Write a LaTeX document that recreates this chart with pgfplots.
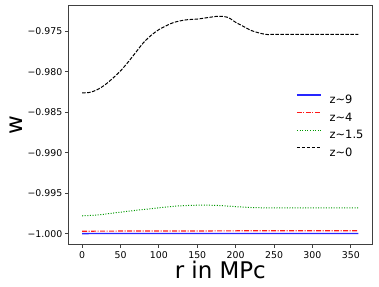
\documentclass[border=0pt]{standalone}
\usepackage{fontspec}
\setmainfont{DejaVu Sans}
\usepackage{pgfplots}
\pgfplotsset{compat=1.18}
\begin{document}
\begin{tikzpicture}[x=1bp,y=1bp]
\useasboundingbox (0,0) rectangle (379,287);
\begin{axis}[
  at={(68.3bp,42.7bp)}, anchor=south west,
  scale only axis, width=304bp, height=239bp,
  xmin=-18, xmax=378, ymin=-1.0013, ymax=-0.9718,
  axis line style={line width=0.8bp, black!75},
  tick align=outside, major tick length=3.3bp,
  tick style={line width=0.8bp, black!75},
  xtick={0,50,100,150,200,250,300,350},
  ytick={-1.000,-0.995,-0.990,-0.985,-0.980,-0.975},
  yticklabels={−1.000,−0.995,−0.990,−0.985,−0.980,−0.975},
  xtick pos=bottom, ytick pos=left,
  /pgf/number format/assume math mode=true,
  ticklabel style={font=\fontsize{9.4}{10}\selectfont},
  xticklabel style={inner sep=0pt, anchor=north, yshift=-3.3bp},
  yticklabel style={inner sep=0pt, anchor=east, xshift=-2.5bp},
  xlabel={r in MPc}, ylabel={w},
  label style={font=\fontsize{23}{24}\selectfont},
  xlabel style={at={(axis description cs:0.5,-0.141)}, anchor=base, inner sep=0pt},
  ylabel style={at={(axis description cs:-0.152,0.5)}, anchor=base, inner sep=0pt},
  legend style={draw=none, fill=none, inner sep=0pt, outer sep=0pt,
    at={(axis description cs:0.75,0.627)}, anchor=north west,
    font=\fontsize{11.5}{12}\selectfont, row sep=8.6bp,
    nodes={inner sep=0pt, text height=8.4bp, text depth=0bp},
    /tikz/every odd column/.append style={column sep=8bp}},
  legend cell align=left,
  legend image code/.code={\draw[#1] (0bp,4.2bp) -- (24bp,4.2bp);},
]
\addplot[blue!85!white, line width=1.3bp] coordinates {(0,-0.99998) (120,-0.99997) (240,-0.99997) (360,-0.99996)};
\addlegendentry{z\char"7E 9}
\addplot[red!90!white, line width=1.2bp, dash pattern=on 5bp off 1.5bp on 1bp off 1.5bp] coordinates {(0,-0.99968) (100,-0.99966) (200,-0.99964) (360,-0.99962)};
\addlegendentry{z\char"7E 4}
\addplot[green!60!black, line width=1bp, dash pattern=on 1bp off 1.6bp, smooth] coordinates {
(0,-0.99778) (20,-0.99768) (40,-0.99745) (60,-0.99722) (80,-0.99700) (100,-0.99680)
(120,-0.99660) (140,-0.99650) (160,-0.99647) (180,-0.99652) (200,-0.99665) (220,-0.99676)
(240,-0.99680) (280,-0.99681) (360,-0.99681)};
\addlegendentry{z\char"7E 1.5}
\addplot[black, line width=1bp, dash pattern=on 3.5bp off 1.5bp, smooth] coordinates {
(0,-0.9826) (10,-0.98255) (20,-0.9822) (30,-0.9816) (40,-0.9808) (50,-0.9799) (60,-0.9788)
(70,-0.9776) (80,-0.9764) (90,-0.9755) (100,-0.9748) (110,-0.9743) (120,-0.9739) (135,-0.9736)
(150,-0.9735) (165,-0.9733) (178,-0.97315) (190,-0.9733) (200,-0.9739) (210,-0.9744)
(220,-0.9749) (230,-0.9752) (240,-0.9754) (250,-0.9754) (300,-0.9754) (360,-0.9754)};
\addlegendentry{z\char"7E 0}
\end{axis}
\end{tikzpicture}
\end{document}
